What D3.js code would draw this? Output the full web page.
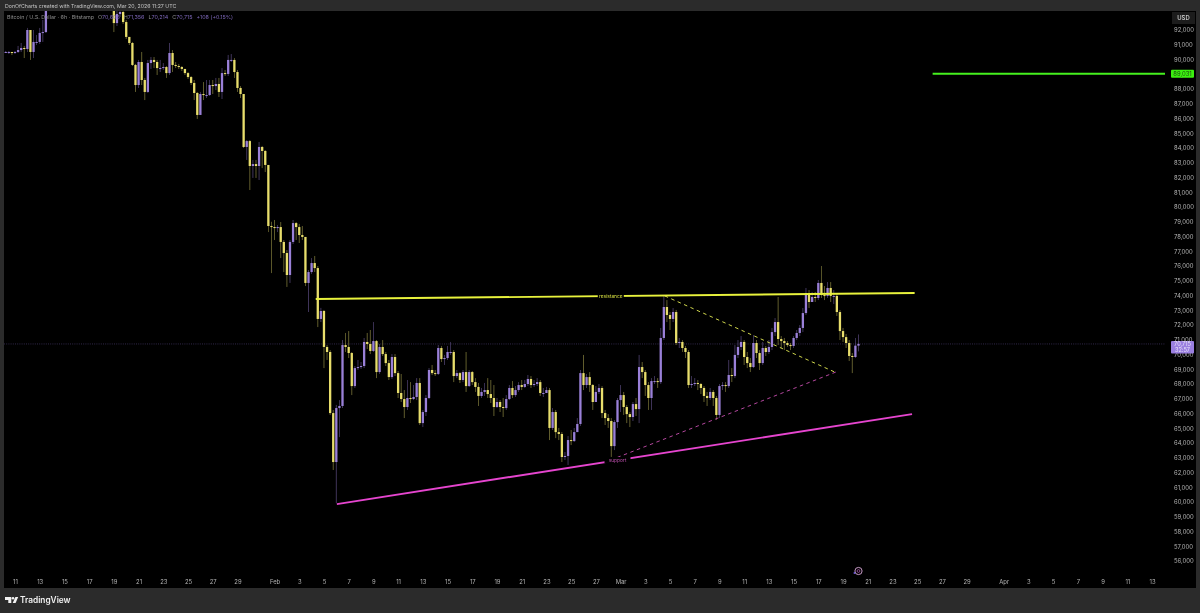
<!DOCTYPE html>
<html><head><meta charset="utf-8">
<script src="https://cdn.jsdelivr.net/npm/d3@7"></script>
<style>html,body{margin:0;padding:0;background:#2b2b2b;overflow:hidden}svg{display:block;filter:blur(.3px)}text{font-family:Inter,"Liberation Sans",sans-serif}</style>
</head><body><svg id="c" width="1200" height="613"></svg>
<script>
// 6h candles, thousands of USD. Open of each candle = previous close.
const startTime = "2026-01-10T06:00:00Z";
const firstOpen = 90.5;
const closes = [
90.51,90.51,90.44,90.51,90.64,90.78,90.71,92.0,90.51,91.19,91.19,91.8,91.86,93.29,
94.2,94.6,95.0,95.8,96.5,96.2,96.8,97.0,96.6,95.6,95.3,95.5,95.2,95.1,94.9,94.7,95.0,95.2,94.8,94.5,94.0,
92.47,93.08,93.22,92.54,91.53,91.12,89.63,88.27,89.83,88.61,
87.8,89.76,89.97,89.83,89.42,89.42,89.49,89.08,90.44,89.63,
89.56,89.49,89.36,89.08,88.81,88.41,87.73,86.24,87.66,87.59,
87.59,88.27,88.2,88.34,87.8,89.08,89.02,89.97,89.97,89.15,
88.07,87.66,84.07,84.47,82.78,82.91,82.78,84.07,83.8,82.85,
78.71,78.64,78.58,78.64,77.63,76.88,75.39,77.63,78.91,78.64,
78.1,77.97,74.85,75.59,76.2,75.86,72.41,72.95,70.51,70.17,
66.03,62.71,66.37,66.51,70.64,70.51,70.1,67.86,
69.08,69.15,69.22,70.85,70.71,70.24,70.91,68.81,70.51,70.03,69.42,68.47,69.83,68.74,67.39,66.98,66.44,67.05,66.98,67.12,
68.07,65.35,66.1,67.05,68.95,68.74,68.68,70.44,69.69,69.76,70.17,70.17,68.54,68.74,68.27,68.81,67.86,68.81,68.13,67.8,67.19,67.46,67.59,67.32,67.05,66.44,66.78,66.44,66.37,66.98,67.73,67.25,67.59,67.93,67.8,68.0,68.34,67.93,68.0,68.13,67.39,67.39,67.59,
65.02,66.1,64.74,64.61,63.05,63.12,64.2,64.13,64.74,65.29,68.74,67.93,68.47,67.93,66.78,67.46,67.73,66.03,
65.69,65.49,63.79,65.42,66.91,67.25,66.44,65.96,65.76,66.64,66.3,69.15,68.81,67.93,67.05,68.2,68.2,68.13,71.12,73.22,72.68,72.41,72.88,70.78,70.85,70.44,70.17,67.93,68.0,68.07,68.0,67.73,67.19,67.05,67.46,67.05,65.9,67.86,67.93,67.86,68.61,68.54,69.97,70.51,70.85,69.83,69.42,69.15,70.78,70.1,69.42,70.44,70.17,70.51,71.52,72.2,71.05,70.91,70.78,70.64,70.58,71.12,71.46,71.8,72.81,74.17,73.56,73.9,73.83,74.85,74.03,73.97,74.51,73.97,73.97,72.88,71.59,71.18,70.78,69.9,69.83,70.6,70.72];
const highs = [
90.58,90.58,90.51,90.58,90.92,91.12,90.92,92.14,92.0,92.0,91.66,92.14,92.68,93.7,
94.6,95.0,95.5,96.2,96.9,96.8,97.3,97.5,97.1,96.7,95.8,95.9,95.7,95.5,95.3,95.1,95.4,95.6,95.4,95.0,94.6,
94.1,93.4,93.6,93.5,92.68,91.53,91.19,89.7,89.97,90.51,
88.75,89.97,90.17,90.17,89.97,89.97,89.76,89.56,91.12,90.64,
89.83,89.7,89.56,89.36,89.15,88.88,88.61,87.8,87.8,88.47,
88.61,88.61,88.61,88.75,88.75,89.42,89.29,90.31,90.37,90.1,
89.29,88.2,87.66,84.54,84.54,83.19,83.19,84.41,84.14,83.86,
82.85,79.0,79.12,78.78,78.98,77.76,77.08,77.76,79.12,78.98,
78.85,78.71,77.97,75.73,76.54,76.68,76.0,73.16,73.02,70.64,
70.3,66.24,66.58,66.91,70.98,71.46,71.59,70.17,
69.22,69.63,69.49,71.12,71.46,71.66,72.2,70.98,70.71,70.98,70.17,69.63,70.03,70.03,68.88,68.68,67.59,68.27,68.13,67.93,
68.4,68.4,66.24,67.25,69.08,69.29,68.95,70.64,70.58,69.97,70.58,70.85,70.3,68.95,68.81,68.95,70.17,68.95,68.88,68.4,68.07,67.73,68.07,68.4,68.27,67.93,67.05,66.91,67.05,67.25,67.93,68.2,67.86,68.13,68.27,68.27,68.61,68.54,68.27,68.4,68.27,67.73,67.8,
67.73,66.37,66.24,65.02,64.74,63.39,64.47,64.88,65.02,65.69,68.95,69.97,68.68,68.81,68.0,67.86,68.0,67.86,
66.24,65.96,65.69,65.56,67.05,67.93,67.46,66.58,66.1,66.78,67.05,69.97,69.49,68.95,68.13,68.4,68.54,68.4,71.8,73.97,73.69,72.88,73.15,73.02,71.12,70.98,70.58,70.3,68.54,68.4,68.27,68.07,67.86,67.46,67.73,67.59,67.19,68.0,68.13,68.13,69.63,69.08,70.64,70.98,71.25,70.98,70.17,69.76,71.32,70.98,70.3,70.85,70.58,70.98,71.8,72.47,73.9,71.25,71.12,70.91,70.78,71.25,71.66,72.0,73.15,74.51,74.37,74.24,74.24,75.05,76.0,74.64,74.91,74.91,74.37,74.1,73.02,71.8,71.39,70.98,70.1,71.12,71.36];
const lows = [
90.44,90.37,90.3,90.37,90.44,90.51,90.1,90.51,89.97,90.1,90.98,91.05,91.19,91.8,
93.3,94.1,94.5,95.2,95.7,95.9,96.0,96.4,96.2,95.3,95.0,95.1,94.9,94.8,94.6,94.4,94.6,94.8,94.6,94.1,93.8,
91.86,92.27,92.88,92.41,91.39,90.98,89.56,87.8,88.07,88.27,
87.25,87.73,89.36,89.42,88.95,89.15,89.29,88.75,88.95,89.15,
89.42,89.36,89.22,88.95,88.68,88.27,87.25,85.97,86.44,87.25,
87.39,87.53,87.66,87.93,87.46,87.32,88.88,88.88,89.83,88.75,
87.8,87.39,84.0,83.19,81.15,81.97,81.97,81.83,82.64,82.37,
78.3,75.52,77.76,78.3,76.54,75.59,74.58,74.85,77.49,77.76,
77.56,77.76,74.64,72.88,75.46,75.59,71.86,72.2,69.08,69.63,
65.9,62.17,59.93,64.4,66.37,70.17,69.76,67.25,
67.73,68.95,69.02,69.08,70.37,70.03,70.17,68.4,68.68,69.9,69.22,68.27,68.34,68.54,67.05,66.78,65.69,66.24,66.71,66.91,
66.91,65.22,65.08,65.83,66.98,68.61,68.54,68.61,69.49,69.29,69.63,69.97,68.13,68.4,68.07,68.13,67.46,67.8,67.93,67.46,66.51,67.05,67.19,67.05,66.71,65.83,66.37,66.1,65.76,66.24,66.91,67.05,67.12,67.46,67.59,67.73,67.86,67.73,67.8,67.86,67.19,67.12,67.39,
64.2,64.88,64.33,64.2,62.71,62.85,62.51,63.86,64.07,65.02,65.15,67.59,67.73,67.46,66.24,66.78,67.32,65.69,
65.22,65.02,62.98,63.52,65.02,66.1,65.9,65.35,65.08,65.49,65.83,65.35,68.4,67.19,66.24,66.24,68.0,67.73,68.0,70.98,72.2,71.66,72.2,70.64,70.44,70.17,69.76,67.73,67.73,67.86,67.59,67.32,66.78,66.51,66.91,66.51,65.56,65.69,67.59,67.46,67.73,68.13,68.4,69.76,70.3,69.29,69.08,68.81,69.08,69.76,68.95,69.29,69.9,70.03,70.3,71.25,70.64,70.44,70.3,70.51,70.3,70.44,70.98,71.25,71.52,72.68,73.15,73.56,73.56,73.69,73.83,73.69,73.83,73.56,73.42,72.61,70.98,70.85,70.44,69.56,68.74,69.76,70.21];

const priceTicks = [92,91,90,89,88,87,86,85,84,83,82,81,80,79,78,77,76,75,74,73,72,71,70,69,68,67,66,65,64,63,62,61,60,59,58,57,56];
const timeTicks = [
["2026-01-11","11"],["2026-01-13","13"],["2026-01-15","15"],["2026-01-17","17"],["2026-01-19","19"],["2026-01-21","21"],["2026-01-23","23"],["2026-01-25","25"],["2026-01-27","27"],["2026-01-29","29"],
["2026-02-01","Feb"],["2026-02-03","3"],["2026-02-05","5"],["2026-02-07","7"],["2026-02-09","9"],["2026-02-11","11"],["2026-02-13","13"],["2026-02-15","15"],["2026-02-17","17"],["2026-02-19","19"],["2026-02-21","21"],["2026-02-23","23"],["2026-02-25","25"],["2026-02-27","27"],
["2026-03-01","Mar"],["2026-03-03","3"],["2026-03-05","5"],["2026-03-07","7"],["2026-03-09","9"],["2026-03-11","11"],["2026-03-13","13"],["2026-03-15","15"],["2026-03-17","17"],["2026-03-19","19"],["2026-03-21","21"],["2026-03-23","23"],["2026-03-25","25"],["2026-03-27","27"],["2026-03-29","29"],
["2026-04-01","Apr"],["2026-04-03","3"],["2026-04-05","5"],["2026-04-07","7"],["2026-04-09","9"],["2026-04-11","11"],["2026-04-13","13"]];
const resistanceLine = [["2026-02-04T08:00:00Z",73.76],["2026-03-24T19:00:00Z",74.17]];
const supportLine = [["2026-02-06T01:00:00Z",59.86],["2026-03-24T14:00:00Z",65.96]];
const dashedYellow = [["2026-03-04T14:00:00Z",73.97],["2026-03-18T08:00:00Z",68.81]];
const dashedMagenta = [["2026-02-28T05:00:00Z",62.85],["2026-03-18T10:00:00Z",68.81]];
const targetLine = [["2026-03-26T06:00:00Z",89.031],["2026-04-15T00:00:00Z",89.031]];
const lastPrice = 70.715;
const targetPrice = 89.031;

const UP="#9a80d8", DOWN="#e8de6c";
const P={l:4,t:11,r:1165,b:588,outerR:1196};
const svg=d3.select("#c");
const x=d3.scaleUtc().domain([new Date("2026-01-11T00:00:00Z"),new Date("2026-04-13T00:00:00Z")]).range([15,1152]);
const y=d3.scaleLinear().domain([92,56]).range([30,561]);
const t0=+new Date(startTime);
const candles=closes.map((c,i)=>({t:new Date(t0+i*216e5),o:i?closes[i-1]:firstOpen,c,h:highs[i],l:lows[i]}));

svg.append("rect").attr("width",1200).attr("height",613).attr("fill","#2b2b2b");
svg.append("rect").attr("x",P.l).attr("y",P.t).attr("width",P.outerR-P.l).attr("height",P.b-P.t).attr("fill","#000");
svg.append("defs").append("clipPath").attr("id","plot").append("rect").attr("x",P.l).attr("y",P.t).attr("width",P.r-P.l).attr("height",P.b-P.t);
const g=svg.append("g").attr("clip-path","url(#plot)");

// last price line
g.append("line").attr("x1",P.l).attr("x2",P.r).attr("y1",y(lastPrice)).attr("y2",y(lastPrice)).attr("stroke","#6f5aa8").attr("stroke-width",.6).attr("stroke-dasharray","1 1.2").attr("opacity",.75);

const col=d=>d.c>=d.o?UP:DOWN;
g.selectAll(".w").data(candles).join("line").attr("x1",d=>x(d.t)).attr("x2",d=>x(d.t)).attr("y1",d=>y(d.h)).attr("y2",d=>y(d.l)).attr("stroke",col).attr("stroke-width",.7).attr("opacity",.6);
g.selectAll(".b").data(candles).join("rect").attr("x",d=>x(d.t)-1.15).attr("width",2.3).attr("y",d=>y(Math.max(d.o,d.c))).attr("height",d=>Math.max(1,Math.abs(y(d.o)-y(d.c)))).attr("fill",col);

const line=d3.line().x(d=>x(new Date(d[0]))).y(d=>y(d[1]));
const draw=(data,stroke,w,dash)=>g.append("path").attr("d",line(data)).attr("fill","none").attr("stroke",stroke).attr("stroke-width",w).attr("stroke-dasharray",dash||null);
draw(dashedYellow,"#e6ee55",.9,"3.5 3.5");
draw(dashedMagenta,"#c84fb0",.9,"3.5 3.5");
draw(resistanceLine,"#e8f23c",1.9);
draw(supportLine,"#e645cf",1.9);
draw(targetLine,"#45f01e",2);

const label=(text,d,c)=>{
  const cx=x(new Date(d)), cy=text==="resistance"?y(73.965):y(62.85);
  g.append("rect").attr("x",cx-13).attr("y",cy-3).attr("width",26).attr("height",6).attr("fill","#000");
  g.append("text").attr("x",cx).attr("y",cy+1.7).attr("text-anchor","middle").attr("font-size",4.8).attr("fill",c).text(text);
};
label("resistance","2026-02-28T05:00:00Z","#d8e040");
label("support","2026-02-28T18:00:00Z","#c050b0");

// axes through D3
const ya=svg.append("g").attr("transform","translate(1174,0)").call(d3.axisRight(y).tickValues(priceTicks).tickSize(0).tickPadding(0).tickFormat(d=>d3.format(",")(d*1000)));
ya.select(".domain").remove();
ya.selectAll("text").attr("font-size",5.9).attr("fill","#b4b4b4").attr("font-family","Inter,sans-serif");
const labs=new Map(timeTicks.map(d=>[+new Date(d[0]+"T00:00:00Z"),d[1]]));
const xa=svg.append("g").attr("transform","translate(0,579.5)").call(d3.axisBottom(x).tickValues(timeTicks.map(d=>new Date(d[0]+"T00:00:00Z"))).tickSize(0).tickPadding(0).tickFormat(d=>labs.get(+d)));
xa.select(".domain").remove();
xa.selectAll("text").attr("font-size",5.9).attr("fill","#b4b4b4").attr("font-family","Inter,sans-serif");

// USD box
svg.append("rect").attr("x",1172).attr("y",12).attr("width",23).attr("height",12).attr("fill","#1c1c1c");
svg.append("text").attr("x",1183.5).attr("y",20).attr("text-anchor","middle").attr("font-size",5.9).attr("font-weight",600).attr("fill","#c8c8c8").text("USD");

// price badges
svg.append("rect").attr("x",1171).attr("y",y(targetPrice)-4).attr("width",23).attr("height",8).attr("rx",1).attr("fill","#3cf010");
svg.append("text").attr("x",1182.5).attr("y",y(targetPrice)+2).attr("text-anchor","middle").attr("font-size",5.9).attr("fill","#1a4a10").text(d3.format(",")(Math.round(targetPrice*1000)));
svg.append("rect").attr("x",1171).attr("y",y(lastPrice)-3).attr("width",23).attr("height",12.5).attr("rx",1).attr("fill","#9a7fe0");
svg.append("text").attr("x",1182.5).attr("y",y(lastPrice)+2.2).attr("text-anchor","middle").attr("font-size",5.6).attr("fill","#e8e2f8").text(d3.format(",")(Math.round(lastPrice*1000)));
svg.append("text").attr("x",1182.5).attr("y",y(lastPrice)+8).attr("text-anchor","middle").attr("font-size",5.6).attr("fill","#e8e2f8").text("32:57");

// header and legend
svg.append("text").attr("x",5).attr("y",8).attr("font-size",5.25).attr("fill","#c4c4c4").text("DonOfCharts created with TradingView.com, Mar 20, 2026 11:27 UTC");
const leg=svg.append("text").attr("x",7).attr("y",19).attr("font-size",5.4);
leg.append("tspan").attr("fill","#8e8e8e").text("Bitcoin / U.S. Dollar · 6h · Bitstamp");
[["O","70,606"],["H","71,356"],["L","70,214"],["C","70,715"]].forEach(([a,b])=>{
  leg.append("tspan").attr("dx",4).attr("fill","#8e8e8e").text(a);
  leg.append("tspan").attr("fill","#7c66b8").text(b);
});
leg.append("tspan").attr("dx",4).attr("fill","#7c66b8").text("+108 (+0.15%)");

// footer logo
const f=svg.append("g").attr("fill","#f2f2f2");
f.append("path").attr("d","M5 597h6.3v6h-3v-3H5zM15.4 597h2.8l-2.6 6h-2.9z");
f.append("circle").attr("cx",13).attr("cy",598.3).attr("r",1.3);
svg.append("text").attr("x",20).attr("y",603.2).attr("font-size",8.3).attr("font-weight",600).attr("fill","#f0f0f0").text("TradingView");

// event marker
const m=svg.append("g").attr("fill","none");
m.append("circle").attr("cx",858.5).attr("cy",571).attr("r",3.6).attr("stroke","#d9a8d8").attr("stroke-width",.9);
m.append("circle").attr("cx",858.5).attr("cy",571).attr("r",1.4).attr("stroke","#c060c0").attr("stroke-width",.7);
m.append("circle").attr("cx",854.5).attr("cy",573).attr("r",1).attr("fill","#6a5ad8");
</script></body></html>
